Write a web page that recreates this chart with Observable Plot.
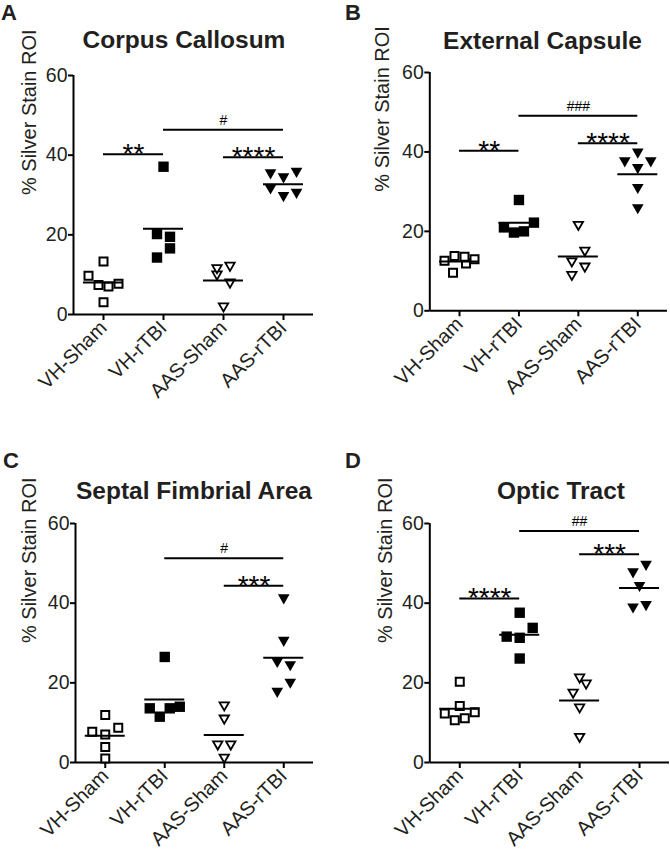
<!DOCTYPE html>
<html><head><meta charset="utf-8">
<script src="https://cdn.jsdelivr.net/npm/d3@7"></script>
<script src="https://cdn.jsdelivr.net/npm/@observablehq/plot@0.6"></script>
<style>
body{margin:0;background:#fff;font-family:"Liberation Sans",Arial,sans-serif;color:#231f20}
#fig{position:relative;width:670px;height:850px;overflow:hidden;background:#fff}
.letter{position:absolute;font-weight:bold;font-size:22px;line-height:1.15;color:#231f20}
.title{position:absolute;font-weight:bold;font-size:24.5px;line-height:1;white-space:nowrap;transform:translateX(-50%);color:#231f20}
</style></head><body><div id="fig"></div>
<script>
const groups = ["VH-Sham", "VH-rTBI", "AAS-Sham", "AAS-rTBI"];
const titles = ["Corpus Callosum", "External Capsule", "Septal Fimbrial Area", "Optic Tract"];
const letters = ["A", "B", "C", "D"];
const yLabel = "% Silver Stain ROI";
const yTicks = [0, 20, 40, 60];

// Panel A: Corpus Callosum
const ccVHSham = [9.7, 7.4, 13.3, 3.1, 7.0, 7.7];
const ccVHrTBI = [20.2, 14.3, 37.1, 16.6, 19.5];
const ccAASSham = [11.4, 9.8, 1.8, 12.0, 7.8];
const ccAASrTBI = [35.2, 31.4, 34.2, 29.5, 35.6, 30.3];
const ccSig = [{a: 0, b: 1, y: 40.2, t: "**"}, {a: 1, b: 3, y: 46.4, t: "#"}, {a: 2, b: 3, y: 39.5, t: "****"}];

// Panel B: External Capsule
const ecVHSham = [12.6, 13.8, 9.6, 11.9, 13.6, 13.0];
const ecVHrTBI = [21.0, 19.7, 27.9, 20.0, 22.2];
const ecAASSham = [12.2, 21.4, 14.9, 8.8, 10.9];
const ecAASrTBI = [37.4, 39.6, 35.7, 30.7, 25.6, 37.4];
const ecSig = [{a: 0, b: 1, y: 40.3, t: "**"}, {a: 1, b: 3, y: 49.1, t: "###"}, {a: 2, b: 3, y: 42.2, t: "****"}];

// Panel C: Septal Fimbrial Area
const sfVHSham = [7.7, 1.0, 11.9, 7.0, 3.9, 8.7];
const sfVHrTBI = [13.6, 11.5, 26.5, 13.6, 14.0];
const sfAASSham = [10.8, 1.0, 4.3, 14.1, 4.3];
const sfAASrTBI = [25.0, 17.5, 41.0, 30.3, 24.2, 19.8];
const sfSig = [{a: 1, b: 3, y: 51.3, t: "#"}, {a: 2, b: 3, y: 44.4, t: "***"}];

// Panel D: Optic Tract
const otVHSham = [14.2, 12.3, 20.3, 10.6, 11.1, 12.6];
const otVHrTBI = [31.6, 37.6, 31.3, 26.1, 33.8];
const otAASSham = [17.3, 21.1, 13.6, 6.2, 19.6];
const otAASrTBI = [47.5, 38.7, 44.1, 49.4, 39.3];
const otSig = [{a: 0, b: 1, y: 41.2, t: "****"}, {a: 1, b: 3, y: 58.1, t: "##"}, {a: 2, b: 3, y: 52.3, t: "***"}];

// custom symbols (size = PI r^2)
const squareSym = {draw(ctx, size) { const r = Math.sqrt(size / Math.PI); ctx.moveTo(-r, -r); ctx.lineTo(r, -r); ctx.lineTo(r, r); ctx.lineTo(-r, r); ctx.closePath(); }};
const triDownSym = {draw(ctx, size) { const r = Math.sqrt(size / Math.PI); ctx.moveTo(-1.12 * r, -0.95 * r); ctx.lineTo(1.12 * r, -0.95 * r); ctx.lineTo(0, 1.0 * r); ctx.closePath(); }};

function layoutGroup(vals, gi, pxY, pxX) {
  const idx = vals.map((v, k) => k).sort((p, q) => vals[p] - vals[q]);
  const rows = []; let cur = null;
  for (const k of idx) {
    if (!cur || (vals[k] - vals[cur[0]]) * pxY > 11) { cur = [k]; rows.push(cur); } else cur.push(k);
  }
  const out = [];
  for (const row of rows) {
    row.sort((p, q) => p - q);
    const n = row.length, s = n >= 4 ? 10 : 13;
    row.forEach((k, j) => out.push({g: gi, v: vals[k], x: gi + (j - (n - 1) / 2) * s / pxX}));
  }
  return out;
}

const fig = document.getElementById("fig");
const FONT = "Liberation Sans, Arial, sans-serif";

function panel(cfg) {
  const {left, axisLeft, axisRight, frameTop, frameBottom, series, sig, title, titleX, titleTop, letter, letterX, letterTop, labelDx} = cfg;
  const W = 335, mt = 15, mb = 87;
  const H = (frameBottom - frameTop) + mt + mb;
  const ml = axisLeft - left, mr = W - (axisRight - left);
  const pxY = (frameBottom - frameTop) / 60;
  const pxX = (axisRight - axisLeft) / 4;
  const pts = series.map((vals, gi) => layoutGroup(vals, gi, pxY, pxX));
  const means = series.map((vals, gi) => ({g: gi, m: d3.mean(vals)}));
  const half = 20 / pxX;
  const stars = sig.filter(d => d.t.startsWith("*"));
  const hashes = sig.filter(d => d.t.startsWith("#"));

  const svg = Plot.plot({
    width: W, height: H,
    marginLeft: ml, marginRight: mr, marginTop: mt, marginBottom: mb,
    x: {domain: [-0.5, 3.5]},
    y: {domain: [0, 60]},
    style: {fontFamily: FONT, color: "#231f20", background: "transparent", overflow: "visible"},
    marks: [
      Plot.axisY({ticks: yTicks, tickSize: 5, tickPadding: 1, fontSize: 19.5, strokeWidth: 2, stroke: "black", label: null}),
      Plot.axisX({ticks: [0, 1, 2, 3], tickFormat: i => groups[i], tickRotate: -45, tickSize: 6, tickPadding: 4, fontSize: 20, strokeWidth: 2, stroke: "black", label: null}),
      Plot.ruleX([-0.5], {y1: 0, y2: 60, stroke: "black", strokeWidth: 2}),
      Plot.ruleY([0], {x1: -0.5, x2: 3.5, stroke: "black", strokeWidth: 2}),
      Plot.text([yLabel], {frameAnchor: "left", dx: labelDx, rotate: -90, fontSize: 20, fill: "#231f20"}),
      Plot.dot(pts[0], {x: "x", y: "v", symbol: squareSym, r: 4, fill: "white", stroke: "black", strokeWidth: 2}),
      Plot.dot(pts[1], {x: "x", y: "v", symbol: squareSym, r: 5.2, fill: "black", stroke: "none"}),
      Plot.dot(pts[2], {x: "x", y: "v", symbol: triDownSym, r: 4.2, fill: "white", stroke: "black", strokeWidth: 1.8}),
      Plot.dot(pts[3], {x: "x", y: "v", symbol: triDownSym, r: 5.2, fill: "black", stroke: "none"}),
      Plot.ruleY(means, {y: "m", x1: d => d.g - half, x2: d => d.g + half, stroke: "black", strokeWidth: 2}),
      Plot.ruleY(sig, {y: "y", x1: "a", x2: "b", stroke: "black", strokeWidth: 2}),
      Plot.text(stars, {x: d => (d.a + d.b) / 2, y: "y", text: "t", fontSize: 28, lineAnchor: "bottom", dy: 9, fill: "black"}),
      Plot.text(hashes, {x: d => (d.a + d.b) / 2, y: "y", text: "t", fontSize: 14, lineAnchor: "bottom", dy: -5, fill: "black"})
    ]
  });
  svg.style.position = "absolute";
  svg.style.left = left + "px";
  svg.style.top = (frameTop - mt) + "px";
  fig.appendChild(svg);

  const t = document.createElement("div");
  t.className = "title"; t.textContent = title;
  t.style.left = titleX + "px"; t.style.top = titleTop + "px";
  fig.appendChild(t);
  const l = document.createElement("div");
  l.className = "letter"; l.textContent = letter;
  l.style.left = letterX + "px"; l.style.top = letterTop + "px";
  fig.appendChild(l);
}

panel({left: 0, axisLeft: 73, axisRight: 313, frameTop: 75, frameBottom: 314,
  series: [ccVHSham, ccVHrTBI, ccAASSham, ccAASrTBI], sig: ccSig,
  title: titles[0], titleX: 184, titleTop: 28, letter: letters[0], letterX: 1, letterTop: 0, labelDx: -44});
panel({left: 335, axisLeft: 429.3, axisRight: 667, frameTop: 71.7, frameBottom: 310,
  series: [ecVHSham, ecVHrTBI, ecAASSham, ecAASrTBI], sig: ecSig,
  title: titles[1], titleX: 542.5, titleTop: 28.5, letter: letters[1], letterX: 345, letterTop: 0, labelDx: -47});
panel({left: 0, axisLeft: 75, axisRight: 313, frameTop: 523.3, frameBottom: 762.3,
  series: [sfVHSham, sfVHrTBI, sfAASSham, sfAASrTBI], sig: sfSig,
  title: titles[2], titleX: 194, titleTop: 478.5, letter: letters[2], letterX: 3, letterTop: 448, labelDx: -45.5});
panel({left: 335, axisLeft: 429.3, axisRight: 669, frameTop: 523.3, frameBottom: 762.3,
  series: [otVHSham, otVHrTBI, otAASSham, otAASrTBI], sig: otSig,
  title: titles[3], titleX: 561, titleTop: 478.5, letter: letters[3], letterX: 345, letterTop: 448, labelDx: -44.3});
</script></body></html>
